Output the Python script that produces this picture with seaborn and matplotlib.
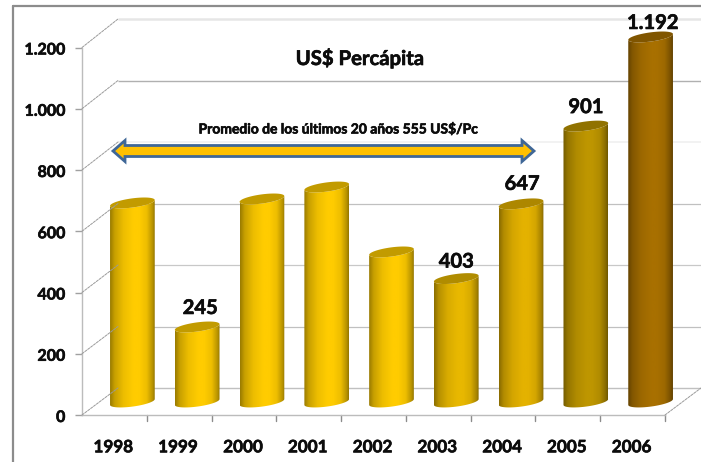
import numpy as np
import matplotlib
matplotlib.use("Agg")
import matplotlib.pyplot as plt
import matplotlib.patheffects as pe
import seaborn as sns
from matplotlib.colors import LinearSegmentedColormap, to_rgb
from matplotlib.patches import ConnectionPatch, Polygon, PathPatch
from matplotlib.path import Path
from matplotlib.transforms import ScaledTranslation

years = ["1998", "1999", "2000", "2001", "2002", "2003", "2004", "2005", "2006"]
values = [650, 245, 663, 702, 490, 403, 647, 901, 1192]
labelled = [False, True, False, False, False, True, True, True, True]
label_nudge_x = [0, 3, 0, 0, 0, 0, 1, 0, 2]
label_nudge_y = [0, -2, 0, 0, 0, -4, -1, -2, -7]
bar_colors = ["#FFCC00", "#FFCC00", "#FFCC00", "#FFCC00", "#FFCC00", "#E8B800", "#E4B200", "#BE9600", "#A87000"]
y_ticks = [0, 200, 400, 600, 800, 1000, 1200]
y_tick_labels = ["0", "200", "400", "600", "800", "1.000", "1.200"]
grid_colors = ["#c0c0c0", "#c0c0c0", "#c8c8c8", "#c0c0c0", "#f0f0f0", "#b0b0b0", "#e6e6e6"]
grid_widths = [1.0, 0.9, 0.9, 0.9, 1.2, 1.0, 1.8]
title = "US$ Percápita"
note = "Promedio de los últimos 20 años 555 US$/Pc"

W, H = 701, 462
INK = "#0c0c0c"
sns.set_theme(style="white")
plt.rcParams["font.family"] = ["Lato", "DejaVu Sans"]
plt.rcParams["font.weight"] = "bold"
fig = plt.figure(figsize=(W / 100, H / 100), dpi=100, facecolor="white")
stroke = [pe.withStroke(linewidth=0.45, foreground=INK)]

def make_axes(left, right, base, top):
    a = fig.add_axes([left / W, 1 - base / H, (right - left) / W, (base - top) / H])
    a.set_xlim(-0.5, len(years) - 0.5)
    a.set_ylim(0, 1200)
    return a

# back wall, front axis, bar layer share one scale and are shifted for the 3-D look
back = make_axes(118, 701, 388, 19)
ax = make_axes(82, 665, 415, 47.5)
bars = make_axes(100, 683, 402, 34.5)
for a in (back, bars):
    a.patch.set_alpha(0)
    a.set_axis_off()
ax.patch.set_alpha(0)

# grid on back wall
for v, c, w in zip(y_ticks, grid_colors, grid_widths):
    back.plot([-0.5, 8.5], [v, v], color=c, lw=w, clip_on=False, solid_capstyle="butt")
    con = ConnectionPatch((-0.5, v), (-0.5, v), coordsA=ax.transData, coordsB=back.transData,
                          color="#9a9a9a", lw=0.7, ls=(0, (2.5, 1.2)))
    fig.add_artist(con)
fig.add_artist(ConnectionPatch((8.5, 0), (8.5, 0), coordsA=ax.transData, coordsB=back.transData,
                               color="#9a9a9a", lw=0.7, ls=(0, (2.5, 1.2))))

# front axes
for s in ("top", "right"):
    ax.spines[s].set_visible(False)
for s in ("left", "bottom"):
    ax.spines[s].set_color("#bcbcbc")
    ax.spines[s].set_linewidth(1.0)
ax.set_yticks(y_ticks, y_tick_labels)
ax.set_xticks(np.arange(len(years)), years)
ax.tick_params(axis="y", length=5, width=1, color="#a0a0a0", labelsize=11.5, pad=7, labelcolor=INK, left=True)
ax.tick_params(axis="x", length=0, labelsize=12.3, pad=17.5, labelcolor=INK)
shift_down = ScaledTranslation(0, -1.5 / 100, fig.dpi_scale_trans)
shift_left = ScaledTranslation(-1.0 / 100, 0, fig.dpi_scale_trans)
for lab in ax.get_yticklabels():
    lab.set_transform(lab.get_transform() + shift_down)
    lab.set_path_effects(stroke)
for lab in ax.get_xticklabels():
    lab.set_transform(lab.get_transform() + shift_left)
    lab.set_path_effects(stroke)
for e in np.arange(0.5, 9):
    ax.plot([e, e], [0, -18], color="#8c8c8c", lw=1.0, clip_on=False)

# bars
sns.barplot(x=years, y=values, ax=bars, hue=years, palette=bar_colors, legend=False,
            width=0.69, saturation=1)
bars.set_xlim(-0.5, len(years) - 0.5)
bars.set_ylim(0, 1200)
bars.set_axis_off()

a_y = 1200 / 367.5          # data units per pixel
b_h = 4.6 * a_y             # ellipse half-height
tilt = 2.9 * a_y            # rise of right edge
ramp = [0.60, 0.78, 0.93, 1.0, 1.0, 0.93, 0.72, 0.58]
ramp_x = [0, 0.1, 0.3, 0.52, 0.65, 0.82, 0.95, 1]
zorder = 3
for patch, v, col in zip(bars.patches, values, bar_colors):
    x0, wd = patch.get_x(), patch.get_width()
    cx = x0 + wd / 2
    patch.set_visible(False)
    rgb = np.array(to_rgb(col))
    cmap = LinearSegmentedColormap.from_list("c", [(p, tuple(rgb * r)) for p, r in zip(ramp_x, ramp)])
    t_low = np.linspace(np.pi, 2 * np.pi, 40)
    t_up = np.linspace(0, 2 * np.pi, 80)
    def ell(t, cy):
        return (cx + wd / 2 * np.cos(t), cy + tilt * np.cos(t) + b_h * np.sin(t))
    xb, yb = ell(t_low, 0)
    xt, yt = ell(t_low[::-1], v)
    verts = np.column_stack([np.r_[xb, xt], np.r_[yb, yt]])
    clip = PathPatch(Path(np.vstack([verts, verts[0]])), transform=bars.transData, fc="none", ec="none",
                     clip_on=False)
    bars.add_patch(clip)
    im = bars.imshow(np.linspace(0, 1, 128)[None, :], cmap=cmap, aspect="auto",
                     extent=(x0, x0 + wd, -40, v + 40), zorder=zorder)
    im.set_clip_path(clip)
    im.set_clip_box(fig.bbox)
    xc, yc = ell(t_up, v)
    bars.fill(xc, yc, color=tuple(rgb * 0.76), lw=0, zorder=zorder + 0.5, clip_on=False)
bars.set_xlim(-0.5, len(years) - 0.5)
bars.set_ylim(0, 1200)
bars.set_aspect("auto")

# value labels
for i, (v, show, nx, ny) in enumerate(zip(values, labelled, label_nudge_x, label_nudge_y)):
    if show:
        bars.annotate(f"{v:,}".replace(",", "."), (i, v), xytext=((nx) * 0.72, (11 + ny) * 0.72),
                      textcoords="offset points", ha="center", va="bottom", fontsize=14.5, color=INK,
                      fontweight="bold", annotation_clip=False, zorder=6, path_effects=stroke)

# title, note and average arrow (annotations placed in figure pixels)
def fx(x): return x / W
def fy(y): return 1 - y / H
fig.text(fx(360), fy(58), title, ha="center", va="center", fontsize=14.6, color=INK, path_effects=stroke)
fig.text(fx(338.5), fy(129.5), note, ha="center", va="center", fontsize=10, color=INK, path_effects=stroke)
xl, xr, yc = 113, 534, 151
hl, hh, sh = 12, 10.5, 5.5
pts = [(xl, yc), (xl + hl, yc - hh), (xl + hl, yc - sh), (xr - hl, yc - sh), (xr - hl, yc - hh),
       (xr, yc), (xr - hl, yc + hh), (xr - hl, yc + sh), (xl + hl, yc + sh), (xl + hl, yc + hh)]
fig.add_artist(Polygon([(fx(a), fy(b)) for a, b in pts], closed=True, transform=fig.transFigure,
                       fc="#FFC000", ec="#3F6797", lw=2, zorder=10))

# outer frame
frame_kw = dict(color="#8c8c8c", lw=1.6, transform=fig.transFigure)
fig.add_artist(plt.Line2D([fx(13), fx(13)], [0, fy(5.7)], **frame_kw))
fig.add_artist(plt.Line2D([fx(13), 1], [fy(5.7), fy(5.7)], **frame_kw))

fig.savefig("out.png", dpi=100)
